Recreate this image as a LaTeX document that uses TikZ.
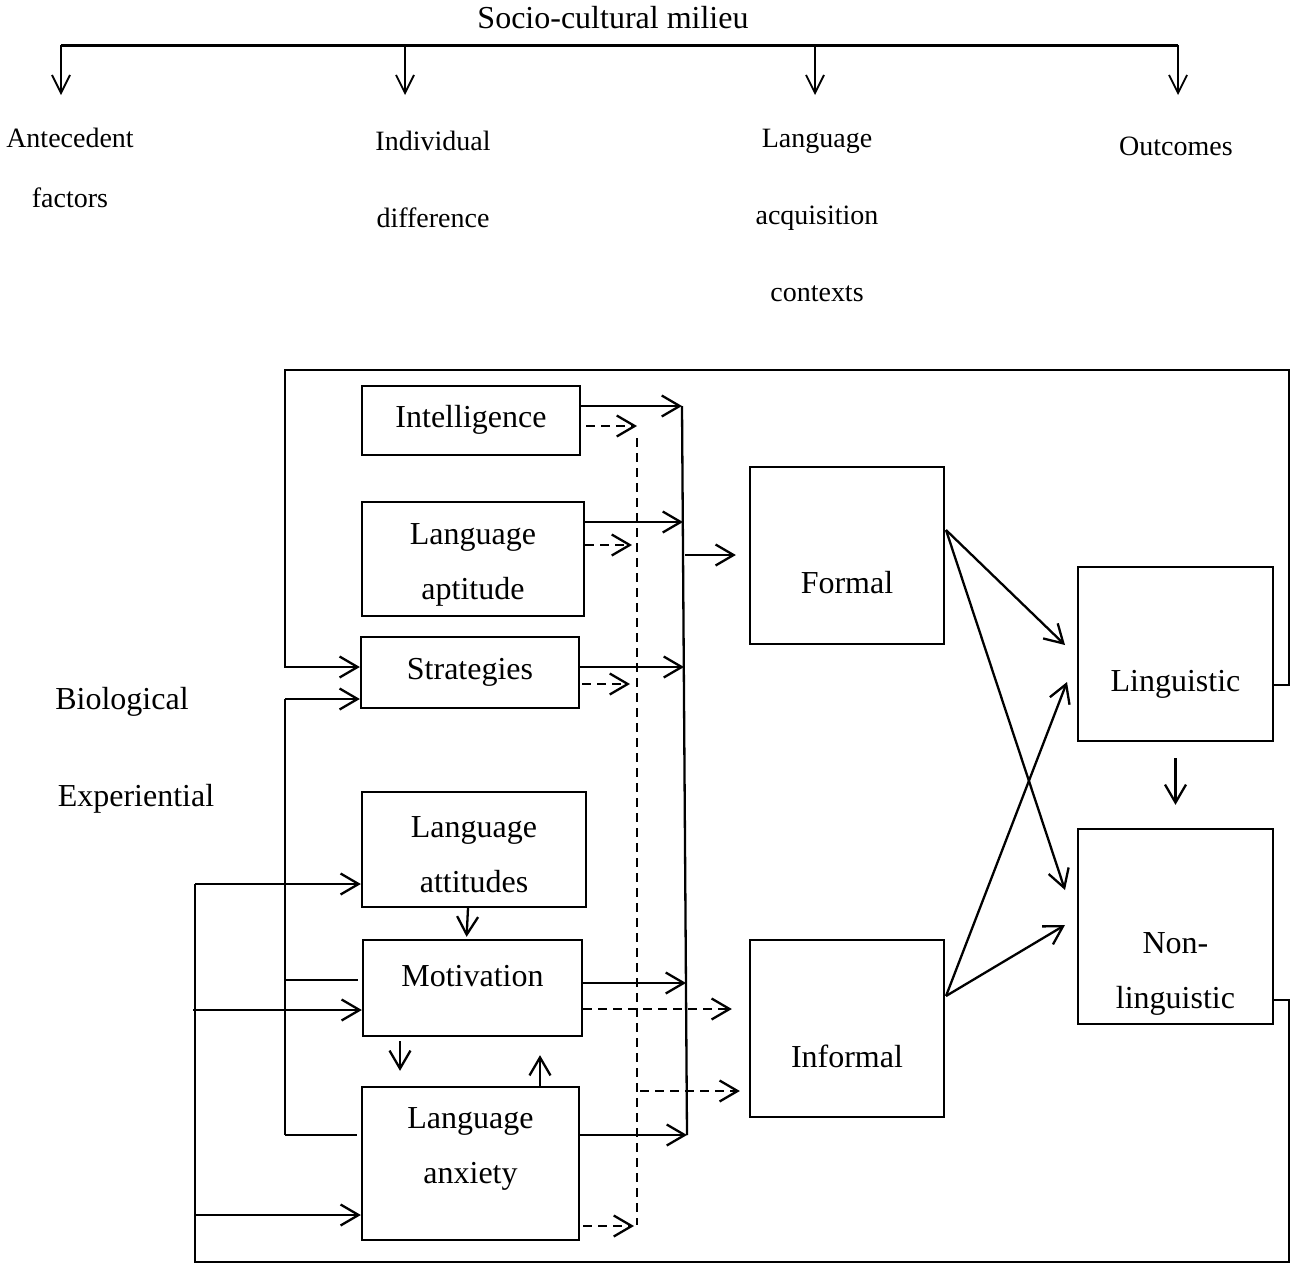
\documentclass[tikz,border=0pt]{standalone}
\usepackage{fontspec}
\setmainfont{Liberation Serif}
\usetikzlibrary{arrows.meta}
\begin{document}
\begin{tikzpicture}[x=0.5pt,y=-0.5pt,
  lw/.style={line width=1.15pt},
  ln/.style={lw},
  arr/.style={lw,-{Straight Barb[length=9pt,width=10.5pt]}},
  tarr/.style={line width=0.9pt,-{Straight Barb[length=9pt,width=9pt]}},
  dln/.style={lw,dash pattern=on 4.5pt off 3pt},
  darr/.style={arr,dash pattern=on 4.5pt off 3pt},
  box/.style={draw,lw,inner sep=0pt,rectangle},
  btxt/.style={font=\fontsize{16}{27.5}\selectfont,align=center,inner sep=0pt},
  ttxt/.style={font=\fontsize{14}{30}\selectfont,align=center,inner sep=0pt},
  ttxtb/.style={font=\fontsize{14}{38.5}\selectfont,align=center,inner sep=0pt},
  stxt/.style={font=\fontsize{16}{19}\selectfont,inner sep=0pt},
]
\useasboundingbox (0,0) rectangle (1291,1264);

% ---- top bracket ----
\node[stxt] (title) at (613,18) {Socio-cultural milieu};
\coordinate (b1) at (61,45);
\coordinate (b2) at (405,45);
\coordinate (b3) at (815,45);
\coordinate (b4) at (1178,45);
\coordinate (t1) at (61,95);
\coordinate (t2) at (405,95);
\coordinate (t3) at (815,95);
\coordinate (t4) at (1178,95);
\draw[line width=1.5pt] (b1) -- (b4);
\draw[tarr] (b1) -- (t1);
\draw[tarr] (b2) -- (t2);
\draw[tarr] (b3) -- (t3);
\draw[tarr] (b4) -- (t4);
\node[ttxt] (ante) at (70,168) {Antecedent\\factors};
\node[ttxtb] (indiv) at (433,179) {Individual\\difference};
\node[ttxtb] (lac) at (817,215) {Language\\acquisition\\contexts};
\node[ttxt] (outc) at (1176,146) {Outcomes};

% ---- left labels ----
\node[stxt] (bio) at (122,702) {Biological};
\node[stxt] (exper) at (136,799) {Experiential};

% ---- boxes ----
\node[box,minimum width=109pt,minimum height=34.5pt] (int) at (471,420.5) {};
\node[btxt] (intT) at (471,420) {Intelligence};
\node[box,minimum width=111pt,minimum height=57pt] (apt) at (473,559) {};
\node[btxt] (aptT) at (473,565) {Language\\aptitude};
\node[box,minimum width=109pt,minimum height=35.5pt] (str) at (470,672.5) {};
\node[btxt] (strT) at (470,672) {Strategies};
\node[box,minimum width=112pt,minimum height=57.5pt] (att) at (474,849.5) {};
\node[btxt] (attT) at (474,855) {Language\\attitudes};
\node[box,minimum width=109.5pt,minimum height=48pt] (mot) at (472.5,988) {};
\node[btxt] (motT) at (472.5,976) {Motivation};
\node[box,minimum width=108.5pt,minimum height=76.5pt] (anx) at (470.5,1163.5) {};
\node[btxt] (anxT) at (470.5,1149) {Language\\anxiety};
\node[box,minimum width=97pt,minimum height=88.5pt] (frm) at (847,555.5) {};
\node[btxt] (frmT) at (847,583) {Formal};
\node[box,minimum width=97pt,minimum height=88.5pt] (inf) at (847,1028.5) {};
\node[btxt] (infT) at (847,1056) {Informal};
\node[box,minimum width=97.5pt,minimum height=87pt] (lng) at (1175.5,654) {};
\node[btxt] (lngT) at (1175.5,684) {Linguistic};
\node[box,minimum width=97.5pt,minimum height=97.5pt] (nln) at (1175.5,926.5) {};
\node[btxt] (nlnT) at (1175.5,974) {Non-\\linguistic};

% ---- solid collector ----
\coordinate (c1) at (682,406);
\coordinate (c2) at (683,522);
\coordinate (c6) at (685,555);
\coordinate (c3) at (684,667);
\coordinate (c4) at (686,983);
\coordinate (c5) at (687,1135);
\draw[ln] (c1) -- (c5);
\draw[arr] (int.east |- c1) -- (c1);
\draw[arr] (apt.east |- c2) -- (c2);
\draw[arr] (str.east |- c3) -- (c3);
\draw[arr] (mot.east |- c4) -- (c4);
\draw[arr] (anx.east |- c5) -- (c5);
\draw[arr,shorten >=6.5pt] (c6) -- (frm.west |- c6);

% ---- dashed collector ----
\coordinate (d0) at (637,438);
\coordinate (d9) at (637,1225);
\draw[dln] (d0) -- (d9);
\draw[darr,shorten <=2.5pt] (int.east |- 0,426) -- (d0 |- 0,426);
\draw[darr,shorten >=2.5pt] (apt.east |- 0,545) -- (d0 |- 0,545);
\draw[darr,shorten <=1pt,shorten >=3.5pt] (str.east |- 0,684) -- (d0 |- 0,684);
\draw[darr,shorten <=1.5pt,shorten >=1.5pt] (anx.east |- 0,1226) -- (d0 |- 0,1226);
\draw[darr,shorten >=8.5pt] (mot.east |- 0,1009) -- (inf.west |- 0,1009);
\draw[darr,shorten <=1.5pt,shorten >=4.5pt] (d0 |- 0,1091) -- (inf.west |- 0,1091);

% ---- contexts to outcomes ----
\coordinate (fo) at (946,530);
\coordinate (io) at (946,996);
\coordinate (l1) at (1065,645);
\coordinate (l2) at (1067,682);
\coordinate (n1) at (1065,890);
\coordinate (n2) at (1065,925);
\draw[arr] (fo) -- (l1);
\draw[arr] (fo) -- (n1);
\draw[arr] (io) -- (l2);
\draw[arr] (io) -- (n2);
\draw[arr,shorten <=8pt,shorten >=11.5pt] (lng.south) -- (nln.north);

% ---- feedback loops ----
\coordinate (r1) at (1289,685);
\coordinate (r2) at (1289,370);
\coordinate (r3) at (285,370);
\coordinate (r4) at (285,667);
\draw[arr] (lng.east |- r1) -- (r1) -- (r2) -- (r3) -- (r4) -- (str.west |- r4);

\coordinate (s1) at (1289,1000);
\coordinate (s2) at (1289,1262);
\coordinate (s3) at (195,1262);
\coordinate (s4) at (195,884);
\coordinate (s5) at (193,1010);
\coordinate (s6) at (195,1215);
\draw[ln] (nln.east |- s1) -- (s1) -- (s2) -- (s3) -- (s4);
\draw[arr] (s4) -- (att.west |- s4);
\draw[arr] (s5) -- (mot.west |- s5);
\draw[arr] (s6) -- (anx.west |- s6);

\coordinate (m1) at (285,699);
\coordinate (m2) at (285,980);
\coordinate (m3) at (285,1135);
\draw[ln] (m1) -- (m3);
\draw[arr] (m1) -- (str.west |- m1);
\draw[ln,shorten >=2pt] (m2) -- (mot.west |- m2);
\draw[ln,shorten >=2pt] (m3) -- (anx.west |- m3);

% ---- inner arrows ----
\draw[arr,shorten >=1pt] ([xshift=-3pt]att.south) -- ([xshift=-3pt]mot.north);
\draw[arr,shorten <=2pt,shorten >=7.5pt] (mot.south -| 400,0) -- (anx.north -| 400,0);
\draw[arr,shorten >=9pt] (anx.north -| 540,0) -- (mot.south -| 540,0);
\end{tikzpicture}
\end{document}
